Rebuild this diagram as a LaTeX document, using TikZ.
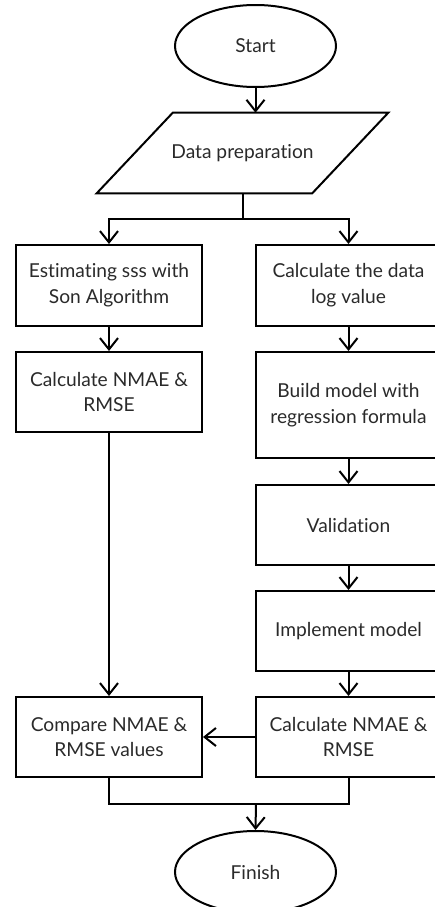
\documentclass[tikz,border=0pt]{standalone}
\usepackage{fontspec}
\setmainfont{Lato}[Ligatures={NoCommon}]
\usetikzlibrary{arrows.meta,shapes.geometric}
\definecolor{txt}{HTML}{2A2A2A}
\begin{document}
\begin{tikzpicture}[x=0.75pt,y=-0.75pt,
  every node/.style={font=\fontsize{14.4pt}{19.3pt}\selectfont, text=txt},
  box/.style={draw, line width=1.5pt, rectangle, align=center, inner sep=0pt},
  term/.style={draw, line width=1.5pt, ellipse, inner sep=0pt, minimum width=161*0.75pt, minimum height=82*0.75pt},
  conn/.style={line width=1.5pt},
  arr/.style={conn, -{Straight Barb[length=8.5pt, width=13.5pt, line width=1.5pt]}}
]
\useasboundingbox (0,0) rectangle (435,907);
% terminals
\node[term] (start) at (255.5,46) {Start};
\node[term] (finish) at (255.5,872) {Finish};
% data preparation (parallelogram)
\node[minimum width=215*0.75pt, minimum height=80*0.75pt, inner sep=0pt] (prep) at (242.5,153) {Data preparation};
\draw[conn, line join=miter] ([xshift=38*0.75pt]prep.north west) -- ([xshift=38*0.75pt]prep.north east)
  -- ([xshift=-38*0.75pt]prep.south east) -- ([xshift=-38*0.75pt]prep.south west) -- cycle;
% left column
\node[box, minimum width=186*0.75pt, minimum height=81*0.75pt] (l1) at (109,285.5) {Estimating sss with\\Son Algorithm};
\node[box, minimum width=186*0.75pt, minimum height=80*0.75pt] (l2) at (109,392) {Calculate NMAE \&\\RMSE};
\node[box, minimum width=186*0.75pt, minimum height=80*0.75pt] (cmp) at (109,737) {Compare NMAE \&\\RMSE values};
% right column
\node[box, minimum width=185*0.75pt, minimum height=81*0.75pt] (r1) at (348.5,285.5) {Calculate the data\\log value};
\node[box, minimum width=185*0.75pt, minimum height=106*0.75pt] (r2) at (348.5,405) {Build model with\\regression formula};
\node[box, minimum width=185*0.75pt, minimum height=80*0.75pt] (r3) at (348.5,525) {Validation};
\node[box, minimum width=185*0.75pt, minimum height=80*0.75pt] (r4) at (348.5,631) {Implement model};
\node[box, minimum width=185*0.75pt, minimum height=80*0.75pt] (r5) at (348.5,737) {Calculate NMAE \&\\RMSE};
% split / merge points
\coordinate (sp) at (243,219);
\coordinate (mg) at (256,804);
% connectors
\draw[arr] (start) -- (start |- prep.north);
\draw[conn] (sp |- prep.south) -- (sp);
\draw[arr] (sp) -| (l1.north);
\draw[arr] (sp) -| (r1.north);
\draw[arr] (l1) -- (l2);
\draw[arr] (l2) -- (cmp);
\draw[arr] (r1) -- (r2);
\draw[arr] (r2) -- (r3);
\draw[arr] (r3) -- (r4);
\draw[arr] (r4) -- (r5);
\draw[arr] (r5.west) -- (cmp.east);
\draw[conn] (cmp.south) |- (mg);
\draw[conn] (r5.south) |- (mg);
\draw[arr] (mg) -- (finish.north);
\end{tikzpicture}
\end{document}
